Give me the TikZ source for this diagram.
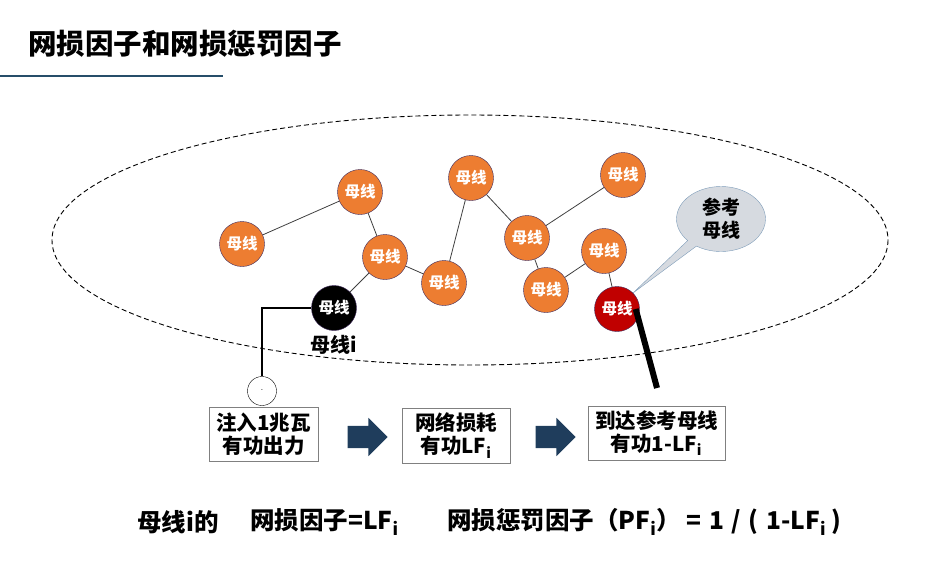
\documentclass[tikz,border=0pt]{standalone}
\usepackage{fontspec}
\setmainfont{Noto Sans CJK SC}
\usepackage{tikz}
\usetikzlibrary{shapes.geometric, shapes.arrows, shapes.callouts, positioning}
\definecolor{busorange}{RGB}{237,125,49}
\definecolor{busedge}{RGB}{60,40,90}
\definecolor{busred}{RGB}{192,0,0}
\definecolor{navy}{RGB}{31,61,92}
\definecolor{titleline}{RGB}{38,78,105}
\definecolor{notegray}{RGB}{214,218,224}
\definecolor{noteedge}{RGB}{127,157,185}
\tikzstyle{bus} = [circle, minimum size=45pt, inner sep=0pt, draw=busedge, fill=busorange, text=white, font=\fontsize{15.5}{15.5}\selectfont\bfseries]
\tikzstyle{stage} = [rectangle, draw=gray, align=center, inner sep=0pt, font=\fontsize{20.5}{23}\selectfont\bfseries]
\tikzstyle{flow} = [single arrow, fill=navy, minimum height=40pt, single arrow head extend=8pt, inner xsep=0pt, inner ysep=11pt]
\tikzstyle{link} = [draw=black!75, line width=0.8pt]
\tikzstyle{formula} = [anchor=west, inner sep=0pt, font=\fontsize{24.5}{24.5}\selectfont\bfseries]

\begin{document}
\begin{tikzpicture}[x=1pt, y=-1pt]
	\useasboundingbox (0,0) rectangle (925,576);
	\node (title) [anchor=west, inner sep=0pt, font=\fontsize{28.5}{28.5}\selectfont\bfseries] at (28,44) {网损因子和网损惩罚因子};
	\draw [titleline, line width=2pt] (0,76) -- (223,76);
	\draw [dash pattern=on 5pt off 3pt, line width=0.9pt] (470,240) ellipse (418 and 125);

	\node (bus1) [bus] at (242,244) {母线};
	\node (bus2) [bus] at (360,192) {母线};
	\node (bus3) [bus] at (385,257) {母线};
	\node (bus4) [bus] at (444,283) {母线};
	\node (bus5) [bus] at (471,178) {母线};
	\node (bus6) [bus] at (527,238) {母线};
	\node (bus7) [bus] at (623,175) {母线};
	\node (bus8) [bus] at (604,251) {母线};
	\node (bus9) [bus] at (546,290) {母线};
	\node (busi) [bus, fill=black] at (334,308) {母线};
	\node (refbus) [bus, fill=busred] at (617,309) {母线};

	\draw [link] (bus1) -- (bus2);
	\draw [link] (bus2) -- (bus3);
	\draw [link] (bus3) -- (bus4);
	\draw [link] (bus3) -- (busi);
	\draw [link] (bus4) -- (bus5);
	\draw [link] (bus5) -- (bus6);
	\draw [link] (bus6) -- (bus7);
	\draw [link] (bus6) -- (bus9);
	\draw [link] (bus9) -- (bus8);
	\draw [link] (bus8) -- (refbus);

	\node (busilabel) [below=1pt of busi, font=\fontsize{20}{20}\selectfont\bfseries] {母线i};

	\node (refnote) [ellipse callout, fill=notegray, draw=noteedge, minimum width=89pt, minimum height=65pt, inner sep=0pt, align=center, font=\fontsize{19}{23}\selectfont\bfseries, callout absolute pointer={(refbus.north east)}] at (721,219) {参考\\母线};

	\coordinate (ground) at (657,388);
	\draw [line width=6pt] ([xshift=-4pt]refbus.east) -- (ground);

	\node (injgen) [circle, draw, minimum size=29pt, inner sep=0pt, font=\fontsize{6}{6}\selectfont] at (262,391) {-};
	\draw [line width=1.5pt] (busi.west) -| (injgen.north);

	\node (inject) [stage, minimum width=109pt, minimum height=54pt] at (263.5,434) {注入1兆瓦\\有功出力};
	\node (loss) [stage, minimum width=108pt, minimum height=55pt] at (456,435.5) {网络损耗\\有功LF\textsubscript{i}};
	\node (arrive) [stage, minimum width=137pt, minimum height=54pt] at (656.5,433) {到达参考母线\\有功1-LF\textsubscript{i}};
	\node (flow1) [flow] at (362,437) {};
	\node (flow2) [flow] at (550,437) {};

	\node (fbus) [formula] at (137,522) {母线i的};
	\node (flf) [formula] at (250,522) {网损因子=LF\textsubscript{i}};
	\node (fpf) [formula] at (447,522) {网损惩罚因子（PF\textsubscript{i}）\hspace{6pt}= \hspace{2pt}1 \hspace{2pt}/ \hspace{2pt}( \hspace{2pt}1-LF\textsubscript{i} )};
\end{tikzpicture}
\end{document}
